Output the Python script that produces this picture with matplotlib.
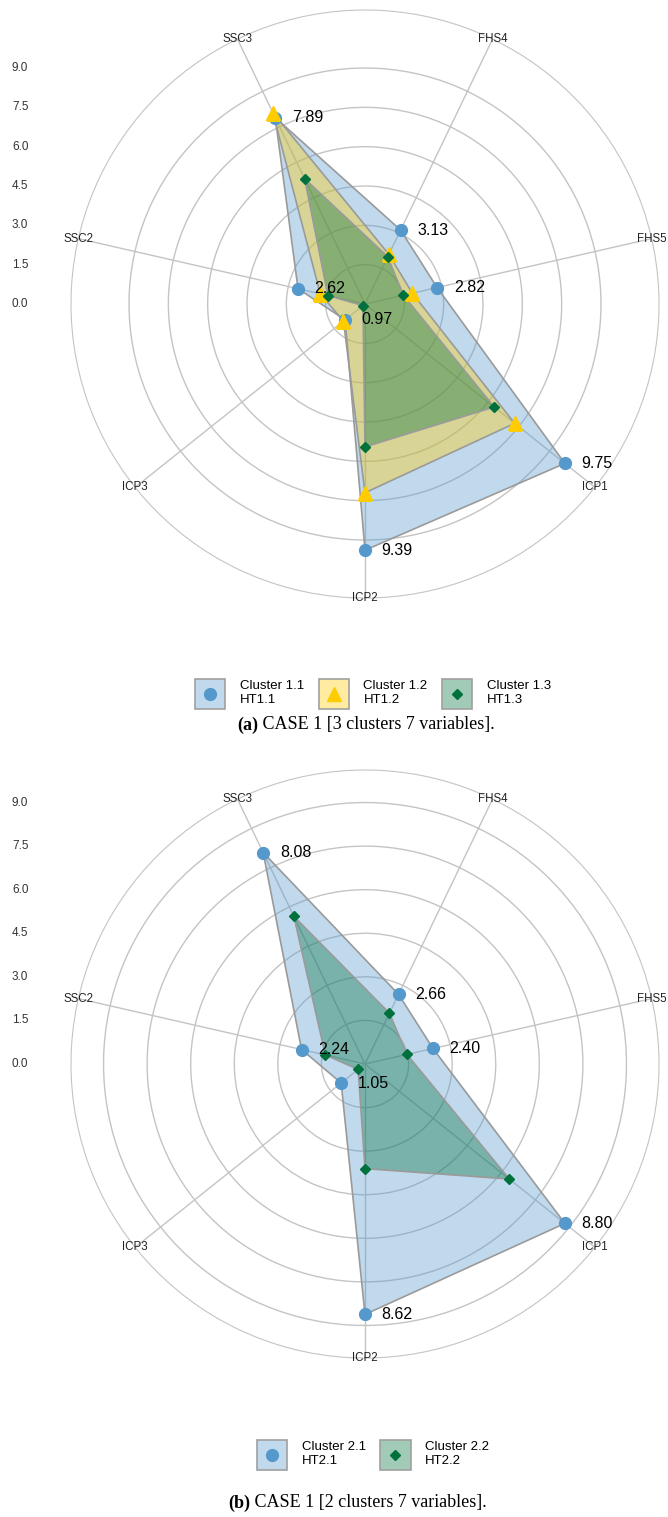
import numpy as np
import matplotlib
matplotlib.use('Agg')  # no UI backend
import matplotlib.pyplot as plt
import matplotlib.transforms as mtransforms
from matplotlib.patches import Rectangle
from matplotlib.lines import Line2D
from matplotlib.legend_handler import HandlerBase
from matplotlib.colors import to_rgba

plt.rcParams['font.family'] = ['Liberation Sans', 'DejaVu Sans']

variables = ['FHS4', 'FHS5', 'ICP1', 'ICP2', 'ICP3', 'SSC2', 'SSC3']
radial_ticks = [0.0, 1.5, 3.0, 4.5, 6.0, 7.5, 9.0]

# CASE 1, 3 clusters
names_a = ['Cluster 1.1\nHT1.1', 'Cluster 1.2\nHT1.2', 'Cluster 1.3\nHT1.3']
c11 = [3.13, 2.82, 9.75, 9.39, 0.97, 2.62, 7.89]
c12 = [2.10, 1.85, 7.30, 7.20, 1.05, 1.75, 8.10]
c13 = [2.00, 1.50, 6.30, 5.45, 0.10, 1.45, 5.30]

# CASE 1, 2 clusters
names_b = ['Cluster 2.1\nHT2.1', 'Cluster 2.2\nHT2.2']
c21 = [2.66, 2.40, 8.80, 8.62, 1.05, 2.24, 8.08]
c22 = [1.94, 1.48, 6.35, 3.60, 0.30, 1.40, 5.64]

BLUE = ('#5599cc', 'o', 8.5)
YELLOW = ('#ffcc00', '^', 10.5)
GREEN = ('#00703c', 'D', 5.5)
ALPHA = 0.37

W, H = 668, 1517
fig = plt.figure(figsize=(W / 100, H / 100), dpi=100)


class LegendKey:
    def __init__(self, style):
        self.style = style


class KeyHandler(HandlerBase):
    # filled square with the series marker in its middle
    def create_artists(self, legend, orig_handle, xdescent, ydescent, width, height, fontsize, trans):
        col, mk, ms = orig_handle.style
        box = Rectangle((-xdescent, -ydescent), width, height, facecolor=to_rgba(col, ALPHA),
                        edgecolor='#a0a0a0', lw=1.2, transform=trans)
        dot = Line2D([width / 2 - xdescent], [height / 2 - ydescent], ls='', marker=mk, ms=ms,
                     color=col, transform=trans)
        return [box, dot]


def draw_radar(cy, series, styles, names, legend_y, tag, caption, cap_x, cap_y):
    cx, R = 365, 294
    rect = [(cx - R) / W, 1 - (cy + R) / H, 2 * R / W, 2 * R / H]
    rmax = 1.15 * max(series[0])
    theta = np.arange(len(variables)) * 2 * np.pi / len(variables)

    ax = fig.add_axes(rect, projection='polar')
    ax.set_theta_offset(np.pi / 2 - np.pi / 7)
    ax.set_theta_direction(-1)
    ax.set_ylim(0, rmax)
    ax.set_yticks(radial_ticks[1:])
    ax.set_yticklabels([])
    ax.set_xticks(theta)
    ax.set_xticklabels([])
    ax.grid(color='#c4c4c4', lw=1)
    ax.spines['polar'].set_color('#c4c4c4')
    for t, name in zip(theta, variables):
        ax.text(t, rmax, name, ha='center', va='center', fontsize=8.3, color='#222222')

    closed = np.append(theta, theta[0])
    for vals, (col, mk, ms) in zip(series, styles):
        v = np.append(vals, vals[0])
        ax.fill(closed, v, color=col, alpha=ALPHA, lw=0, zorder=2)
        ax.plot(closed, v, color='#9a9a9a', lw=1.2, zorder=3)
        ax.plot(theta, vals, ls='', marker=mk, ms=ms, color=col, zorder=4)
    for t, v in zip(theta, series[0]):
        ax.annotate(f'{v:.2f}', (t, v), xytext=(12, 0), textcoords='offset points',
                    ha='left', va='center', fontsize=11.5, zorder=5)

    # radial scale printed down the left side
    ax2 = fig.add_axes(rect, frameon=False)
    ax2.set_xlim(-rmax, rmax)
    ax2.set_ylim(-rmax, rmax)
    ax2.axis('off')
    trans = mtransforms.blended_transform_factory(fig.transFigure, ax2.transData)
    for r in radial_ticks:
        ax2.text(12 / W, r, f'{r:.1f}', transform=trans, ha='left', va='center',
                 fontsize=8.5, color='#333333')

    handles = [LegendKey(s) for s in styles]
    fig.legend(handles, names, handler_map={LegendKey: KeyHandler()},
               loc='center', bbox_to_anchor=(373 / W, 1 - legend_y / H), ncol=len(names),
               frameon=False, fontsize=9.5, handlelength=2.3, handleheight=3.2,
               handletextpad=1.1, columnspacing=1.1, labelspacing=0.2)

    t1 = fig.text(cap_x / W, 1 - cap_y / H, tag, fontsize=13, weight='bold',
                  family='Liberation Serif', ha='left', va='center')
    ax2.annotate(caption, xy=(1, 0.5), xycoords=t1, ha='left', va='center',
                 fontsize=13, family='Liberation Serif', annotation_clip=False)


draw_radar(304, [c11, c12, c13], [BLUE, YELLOW, GREEN], names_a, 694,
           '(a)', ' CASE 1 [3 clusters 7 variables].', 237, 725)
draw_radar(1064, [c21, c22], [BLUE, GREEN], names_b, 1455,
           '(b)', ' CASE 1 [2 clusters 7 variables].', 228, 1503)

fig.savefig('out.png', dpi=100)
